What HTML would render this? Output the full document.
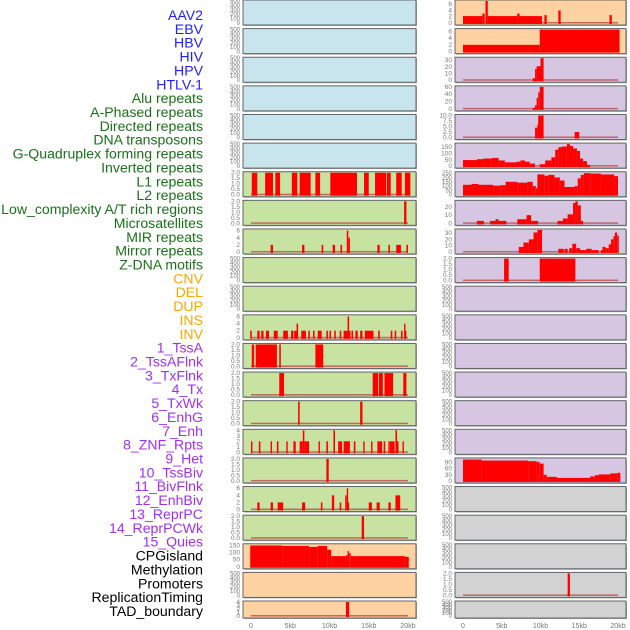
<!DOCTYPE html>
<html><head><meta charset="utf-8"><style>
html,body{margin:0;padding:0;background:#fff}
svg{display:block;font-family:"Liberation Sans",sans-serif}
</style></head><body>
<svg id="chart" width="630" height="630" viewBox="0 0 630 630" xmlns="http://www.w3.org/2000/svg"></svg>
<script>
// ---- data ----
const trackLabels = ["AAV2","EBV","HBV","HIV","HPV","HTLV-1","Alu repeats","A-Phased repeats","Directed repeats","DNA transposons","G-Quadruplex forming repeats","Inverted repeats","L1 repeats","L2 repeats","Low_complexity A/T rich regions","Microsatellites","MIR repeats","Mirror repeats","Z-DNA motifs","CNV","DEL","DUP","INS","INV","1_TssA","2_TssAFlnk","3_TxFlnk","4_Tx","5_TxWk","6_EnhG","7_Enh","8_ZNF_Rpts","9_Het","10_TssBiv","11_BivFlnk","12_EnhBiv","13_ReprPC","14_ReprPCWk","15_Quies","CPGisland","Methylation","Promoters","ReplicationTiming","TAD_boundary"];
const labelGroups = [6,13,5,15,5];
const groupColors = ["#2020ff","#1a701a","#ffa500","#a030f0","#000000"];

const xTickValues = [0,5,10,15,20];
const xTickLabels = ["0","5kb","10kb","15kb","20kb"];

const emptyTicks = [0,100,200,300,400,500];
const leftBg = ["blue","blue","blue","blue","blue","blue","green","green","green","green","green","green","green","green","green","green","green","green","green","orange","orange","orange"];
const rightBg = ["orange","orange","purple","purple","purple","purple","purple","purple","purple","purple","purple","purple","purple","purple","purple","purple","purple","gray","gray","gray","gray","gray"];

const leftTicks = [emptyTicks,emptyTicks,emptyTicks,emptyTicks,emptyTicks,emptyTicks,
 [0,0.5,1,1.5,2],[0,0.5,1,1.5,2],[0,2,4,6],emptyTicks,emptyTicks,[0,2,4,6],
 [0,0.5,1,1.5,2],[0,0.5,1,1.5,2],[0,0.5,1,1.5,2],[0,1,2,3,4],[0,0.5,1,1.5,2],[0,2,4,6],[0,0.5,1,1.5,2],
 [0,50,100,150],emptyTicks,[0,1,2,3,4]];
const rightTicks = [[0,2,4,6],[0,2,4,6],[0,10,20,30],[0,20,40,60],[0,2.5,5,7.5,10],[0,50,100,150],[0,50,100,150,200,250],
 [0,10,20],[0,10,20,30],[0,0.5,1,1.5,2],emptyTicks,emptyTicks,emptyTicks,emptyTicks,emptyTicks,emptyTicks,[0,30,60,90],
 emptyTicks,emptyTicks,emptyTicks,[0,0.5,1,1.5,2],emptyTicks];
const leftMax = [500,500,500,500,500,500,2,2,6.2,500,500,6.2,2,2,2,4,2,6.2,2,155,500,4];
const rightMax = [7,6.5,33,60,10,175,255,27,35,2,500,500,500,500,500,500,108,500,500,500,2,500];

// segments: [start kb, end kb, value]
const L_L1 = [[0.1,0.8,2],[1.8,2.8,2],[3.1,3.7,2],[5.2,5.9,2],[6.2,7.6,2],[8.2,8.8,2],[10.1,13.5,2],[14.4,15.0,2],[15.8,17.2,2],[17.3,17.8,2],[18.5,19.2,2],[19.6,20.3,2]];
const L_L2 = [[19.5,19.8,2]];
const L_Low = [[2.5,2.8,2],[6.5,6.8,2],[9.0,9.2,2],[10.4,10.7,2],[11.4,11.6,2],[12.2,12.4,6],[12.4,12.6,4],[16.1,16.4,2],[17.5,17.7,2],[18.5,19.1,2],[19.8,20.0,2]];
const L_INS = [[-0.1,0.1,2],[0.8,1.1,2],[1.3,1.6,2],[1.9,2.3,2],[2.9,3.4,2],[4.1,4.7,2],[5.1,5.4,2],[5.5,5.8,2],[5.8,6.0,4],[6.4,7.0,2],[7.3,7.5,2],[7.9,8.1,2],[8.5,9.0,2],[9.6,9.8,2],[10.0,10.2,2],[10.6,10.8,2],[11.3,11.5,2],[11.8,12.3,2],[12.3,12.5,6],[12.5,12.6,2],[12.8,13.0,2],[13.3,13.6,2],[13.9,14.2,2],[14.5,15.6,2],[16.2,16.4,2],[17.8,18.0,2],[18.3,18.5,2],[19.1,19.3,2],[19.5,19.6,4],[19.6,19.8,2]];
const L_TssA = [[0.1,0.4,2],[0.6,3.3,2],[3.6,3.8,2],[8.2,9.2,2]];
const L_TssAFlnk = [[3.6,4.2,2],[15.5,16.2,2],[16.3,16.8,2],[17.0,18.1,2],[19.4,19.8,2]];
const L_TxFlnk = [[6.0,6.2,2],[13.9,14.2,2]];
const L_Tx = [[0,0.1,2],[1.0,1.2,2],[2.5,2.6,2],[3.3,3.5,2],[4.5,4.6,2],[5.4,5.7,2],[6.2,6.6,2],[6.6,6.8,4],[6.8,7.4,2],[8.6,8.7,2],[9.6,9.8,2],[10.5,10.7,4],[11.1,11.6,2],[11.8,12.6,2],[13.1,13.3,2],[14.3,14.4,2],[15.3,15.4,2],[16.1,16.7,2],[16.9,17.1,2],[17.5,17.6,2],[17.7,18.3,2],[18.4,18.6,4],[18.6,18.8,2],[19.3,19.4,2]];
const L_Het = [[9.6,9.9,2]];
const L_ZNF = [[0.8,1.1,2],[2.5,2.8,2],[3.4,4.1,2],[6.5,6.9,2],[8.9,9.1,2],[10.3,10.6,4],[11.3,11.5,2],[12.0,12.2,4],[12.2,12.3,6],[12.3,12.5,2],[15.0,15.4,2],[16.0,16.4,2],[17.5,17.8,2],[18.4,19.0,4]];
const L_Biv = [[14.1,14.4,2]];
const L_CpG = [[-0.1,4.0,150],[4.0,7.4,147],[7.4,8.5,140],[8.5,9.7,147],[9.7,10.2,120],[10.2,12.1,75],[12.1,12.3,80],[12.3,12.5,110],[12.5,12.7,95],[12.7,19.6,75],[19.6,20.1,70]];
const L_Meth = [];
const L_TAD = [[12.1,12.5,4]];

const R_AAV2 = [[0,2.5,2.2],[2.5,2.8,3],[2.9,3.2,7],[3.2,7.0,2.2],[7.0,7.3,3],[7.3,10.2,2.2],[10.5,10.8,2.5],[12.3,12.6,4],[18.9,19.2,2.5]];
const R_EBV = [[0,9.9,2],[9.9,20.2,6.5]];
const R_HIV = [[9.0,9.3,3],[9.3,9.5,17],[9.5,10.0,21],[10.0,10.4,33]];
const R_HPV = [[9.0,9.3,3],[9.3,9.5,10],[9.5,9.7,30],[9.7,9.9,45],[9.9,10.4,60]];
const R_HTLV = [[9.3,9.6,4.5],[9.6,9.7,6],[9.7,10.4,10],[14.4,15.0,2.5]];
const R_Alu = [[0,1.8,48],[1.8,2.6,55],[2.6,3.7,60],[3.7,4.6,65],[4.6,5.4,45],[5.4,6.9,30],[6.9,7.4,35],[7.4,8.0,45],[8.0,8.6,35],[8.6,9.3,20],[9.9,10.6,15],[10.6,11.4,45],[11.4,11.9,70],[11.9,12.3,130],[12.3,12.7,150],[12.7,13.4,155],[13.4,13.8,175],[13.8,14.2,160],[14.2,14.7,140],[14.7,15.1,120],[15.1,15.5,60],[15.5,16.0,40],[16.0,16.4,10]];
const R_APh = [[0,1.1,115],[1.1,2.0,125],[2.0,3.9,115],[3.9,4.8,105],[4.8,5.5,110],[5.5,7.0,150],[7.0,8.3,140],[8.3,9.0,150],[9.0,9.4,100],[9.4,9.6,75],[9.6,10.5,235],[10.5,11.0,220],[11.0,11.8,230],[11.8,12.5,200],[12.5,13.1,165],[13.1,14.4,90],[14.4,14.8,100],[14.8,15.2,190],[15.2,15.6,230],[15.6,16.5,250],[16.5,17.8,245],[17.8,19.5,235],[19.5,20.0,215]];
const R_Dir = [[1.8,2.7,3],[3.5,4.2,3],[4.2,4.6,5],[4.6,5.6,3],[7.0,8.2,5],[8.2,8.8,10],[8.8,9.7,3],[12.2,12.9,3],[12.9,13.5,6],[13.5,14.2,11],[14.2,14.5,25],[14.5,14.8,27],[14.8,15.2,22],[15.2,15.5,3]];
const R_DNA = [[7.2,7.8,8],[7.8,8.5,15],[8.5,9.1,20],[9.1,9.6,31],[9.6,10.2,35],[12.3,13.0,5],[13.1,13.5,5],[13.7,14.1,6],[14.1,14.6,13],[14.6,15.1,6],[15.1,15.9,3],[15.9,16.6,5],[16.6,17.5,3],[17.8,18.0,3],[18.0,18.4,8],[18.4,18.8,6],[18.8,19.1,12],[19.1,19.4,20],[19.4,19.6,25],[19.6,19.9,31],[19.9,20.1,26]];
const R_GQ = [[5.3,5.9,2],[9.9,14.5,2]];
const R_Inv = [[0,2.4,105],[2.4,8.4,100],[8.4,9.5,97],[9.5,9.9,93],[9.9,10.4,85],[10.4,10.8,30],[10.8,12.1,20],[12.1,16.4,15],[16.4,17.0,22],[17.0,17.5,28],[17.5,19.0,32],[19.0,19.9,37],[19.9,20.3,40]];
const R_Prom = [[13.5,13.8,2]];

const leftSegs = [[],[],[],[],[],[],L_L1,L_L2,L_Low,[],[],L_INS,L_TssA,L_TssAFlnk,L_TxFlnk,L_Tx,L_Het,L_ZNF,L_Biv,L_CpG,L_Meth,L_TAD];
const rightSegs = [R_AAV2,R_EBV,R_HIV,R_HPV,R_HTLV,R_Alu,R_APh,R_Dir,R_DNA,R_GQ,[],[],[],[],[],[],R_Inv,[],[],[],R_Prom,[]];

// ---- drawing ----
const NS = "http://www.w3.org/2000/svg";
const svg = document.getElementById("chart");
const bgColors = {blue:"#c8e4ec",green:"#c8e2a2",orange:"#ffd2a2",purple:"#d6c6e2",gray:"#d2d2d2"};
function el(tag, attrs, parent){const e=document.createElementNS(NS,tag);for(const k in attrs)e.setAttribute(k,attrs[k]);(parent||svg).appendChild(e);return e;}
function rowTop(i){return i*28.62;}
function rowH(i){return i===21?17:25;}
const cols = [
 {x0:243,x1:416,zero:251,pxPerKb:7.85,bg:leftBg,ticks:leftTicks,max:leftMax,segs:leftSegs,name:"left"},
 {x0:455,x1:626,zero:463,pxPerKb:7.75,bg:rightBg,ticks:rightTicks,max:rightMax,segs:rightSegs,name:"right"}
];
function fmt(t,ticks){const dec=ticks.some(v=>v%1!==0)||(ticks[ticks.length-1]<=2);return dec?t.toFixed(1):String(t);}

cols.forEach(c=>{
 const xs = kb => c.zero + kb*c.pxPerKb;
 for(let i=0;i<22;i++){
  const top=rowTop(i), h=rowH(i), bottom=top+h;
  const g=el("g",{});
  
  
  el("rect",{x:c.x0+1,y:top+1,width:c.x1-c.x0,height:h,fill:"#a8a8a8"},g);
  el("rect",{x:c.x0,y:top,width:c.x1-c.x0,height:h,fill:bgColors[c.bg[i]],stroke:"#606468","stroke-width":1},g);
  const yMax=c.max[i];
  const ys = v => bottom-2 - v/yMax*(h-3);
  const ticks=c.ticks[i];
  const fs = ticks.length>5 ? 6 : 6.5;
  ticks.forEach(t=>{
   const tx=el("text",{x:c.x0-3,y:ys(t)+2,"font-size":fs,fill:"#777","text-anchor":"end"},g);
   
   
   tx.textContent=fmt(t,ticks);
  });
  const segs=c.segs[i];
  if(segs.length){
   const base=el("rect",{x:xs(0),y:bottom-3,width:xs(20)-xs(0),height:1.5,fill:"#c04848",opacity:0.8},g);
   
   
  }
  segs.forEach(s=>{
   let a=Math.max(xs(s[0]),c.x0+1), b=Math.min(xs(s[1]),c.x1-1);
   const yt=Math.max(ys(s[2]),top+1);
   const r=el("rect",{x:a,y:yt,width:Math.max(b-a,1.4),height:bottom-2-yt+1,fill:"#ff0000"},g);
   
   
  });
 }
 xTickValues.forEach((v,k)=>{
  const t=el("text",{x:xs(v),y:628,"font-size":7,fill:"#777","text-anchor":"middle"});
  
  
  t.textContent=xTickLabels[k];
 });
});

let idx=0;
labelGroups.forEach((n,gi)=>{
 for(let j=0;j<n;j++){
  const t=el("text",{x:203,y:15+idx*13.86+5,"font-size":14.1,fill:groupColors[gi],"text-anchor":"end"});
  
  
  t.textContent=trackLabels[idx];
  idx++;
 }
});
</script>
</body></html>
